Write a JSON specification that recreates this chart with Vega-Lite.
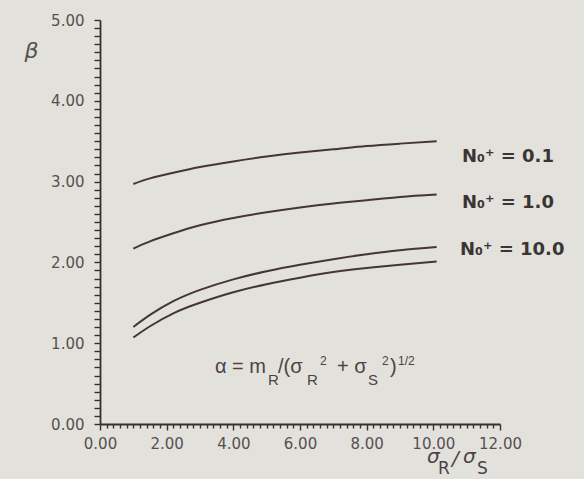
{
  "$schema": "https://vega.github.io/schema/vega-lite/v6.json",
  "width": 400,
  "height": 404,
  "autosize": "none",
  "padding": {"left": 100, "top": 20, "right": 84, "bottom": 55},
  "background": "#e3e1dc",
  "config": {
    "view": {"stroke": null},
    "axis": {"domainColor": "#3a2f2f", "domainWidth": 1.8, "tickColor": "#3a2f2f", "tickWidth": 1.4, "labelColor": "#555050", "labelFont": "DejaVu Sans", "labelFontSize": 15, "grid": false}
  },
  "datasets": {
    "curves": [
      {"series": "0.1", "x": 1.0, "y": 2.97}, {"series": "0.1", "x": 1.5, "y": 3.04}, {"series": "0.1", "x": 2.2, "y": 3.11}, {"series": "0.1", "x": 3.0, "y": 3.18}, {"series": "0.1", "x": 4.0, "y": 3.25}, {"series": "0.1", "x": 5.0, "y": 3.31}, {"series": "0.1", "x": 6.0, "y": 3.36}, {"series": "0.1", "x": 7.0, "y": 3.40}, {"series": "0.1", "x": 8.0, "y": 3.44}, {"series": "0.1", "x": 9.0, "y": 3.47}, {"series": "0.1", "x": 10.1, "y": 3.50},
      {"series": "1.0", "x": 1.0, "y": 2.17}, {"series": "1.0", "x": 1.5, "y": 2.26}, {"series": "1.0", "x": 2.2, "y": 2.36}, {"series": "1.0", "x": 3.0, "y": 2.46}, {"series": "1.0", "x": 4.0, "y": 2.55}, {"series": "1.0", "x": 5.0, "y": 2.62}, {"series": "1.0", "x": 6.0, "y": 2.68}, {"series": "1.0", "x": 7.0, "y": 2.73}, {"series": "1.0", "x": 8.0, "y": 2.77}, {"series": "1.0", "x": 9.0, "y": 2.81}, {"series": "1.0", "x": 10.1, "y": 2.84},
      {"series": "10.0", "x": 1.0, "y": 1.20}, {"series": "10.0", "x": 1.5, "y": 1.35}, {"series": "10.0", "x": 2.2, "y": 1.52}, {"series": "10.0", "x": 3.0, "y": 1.66}, {"series": "10.0", "x": 4.0, "y": 1.79}, {"series": "10.0", "x": 5.0, "y": 1.89}, {"series": "10.0", "x": 6.0, "y": 1.97}, {"series": "10.0", "x": 7.0, "y": 2.04}, {"series": "10.0", "x": 8.0, "y": 2.10}, {"series": "10.0", "x": 9.0, "y": 2.15}, {"series": "10.0", "x": 10.1, "y": 2.19},
      {"series": "lower", "x": 1.0, "y": 1.07}, {"series": "lower", "x": 1.5, "y": 1.21}, {"series": "lower", "x": 2.2, "y": 1.37}, {"series": "lower", "x": 3.0, "y": 1.50}, {"series": "lower", "x": 4.0, "y": 1.63}, {"series": "lower", "x": 5.0, "y": 1.73}, {"series": "lower", "x": 6.0, "y": 1.81}, {"series": "lower", "x": 7.0, "y": 1.88}, {"series": "lower", "x": 8.0, "y": 1.93}, {"series": "lower", "x": 9.0, "y": 1.97}, {"series": "lower", "x": 10.1, "y": 2.01}
    ],
    "nlabels": [
      {"t": "N₀⁺ = 0.1", "x": 10.86, "y": 3.24},
      {"t": "N₀⁺ = 1.0", "x": 10.86, "y": 2.67},
      {"t": "N₀⁺ = 10.0", "x": 10.80, "y": 2.09}
    ],
    "fmain": [
      {"t": "α = m", "x": 3.45, "y": 0.631},
      {"t": "/(σ", "x": 5.34, "y": 0.631},
      {"t": "+ σ", "x": 7.11, "y": 0.631},
      {"t": ")", "x": 8.70, "y": 0.631}
    ],
    "fsub": [
      {"t": "R", "x": 5.04, "y": 0.483},
      {"t": "R", "x": 6.21, "y": 0.483},
      {"t": "S", "x": 8.04, "y": 0.483}
    ],
    "fsup": [
      {"t": "2", "x": 6.6, "y": 0.73},
      {"t": "2", "x": 8.46, "y": 0.73},
      {"t": "1/2", "x": 8.94, "y": 0.73}
    ],
    "xtmain": [
      {"t": "σ", "x": 9.81, "y": -0.48},
      {"t": "/", "x": 10.56, "y": -0.51},
      {"t": "σ", "x": 10.89, "y": -0.48}
    ],
    "xtsub": [
      {"t": "R", "x": 10.14, "y": -0.62},
      {"t": "S", "x": 11.31, "y": -0.62}
    ]
  },
  "layer": [
    {
      "data": {"name": "curves"},
      "mark": {"type": "line", "interpolate": "natural", "color": "#453535", "strokeWidth": 2},
      "encoding": {
        "x": {"field": "x", "type": "quantitative", "scale": {"domain": [0, 12], "nice": false},
          "axis": {"title": null, "tickCount": 80, "values": [0,0.2,0.4,0.6,0.8,1,1.2,1.4,1.6,1.8,2,2.2,2.4,2.6,2.8,3,3.2,3.4,3.6,3.8,4,4.2,4.4,4.6,4.8,5,5.2,5.4,5.6,5.8,6,6.2,6.4,6.6,6.8,7,7.2,7.4,7.6,7.8,8,8.2,8.4,8.6,8.8,9,9.2,9.4,9.6,9.8,10,10.2,10.4,10.6,10.8,11,11.2,11.4,11.6,11.8,12],
            "labelExpr": "abs(datum.value/2 - round(datum.value/2)) < 0.001 ? format(datum.value, '.2f') : ''",
            "labelOverlap": false, "labelPadding": 6, "labelFlush": false,
            "tickSize": {"condition": {"test": "abs(datum.value/2 - round(datum.value/2)) < 0.001", "value": 6}, "value": 4}}},
        "y": {"field": "y", "type": "quantitative", "scale": {"domain": [0, 5], "nice": false},
          "axis": {"title": "β", "titleAngle": 0, "titleX": -69, "titleY": 37, "titleAlign": "center", "titleBaseline": "alphabetic", "titleFont": "DejaVu Sans", "titleFontStyle": "italic", "titleFontWeight": "normal", "titleFontSize": 22, "titleColor": "#555050",
            "tickCount": 70,
            "values": [0,0.1,0.2,0.3,0.4,0.5,0.6,0.7,0.8,0.9,1,1.1,1.2,1.3,1.4,1.5,1.6,1.7,1.8,1.9,2,2.1,2.2,2.3,2.4,2.5,2.6,2.7,2.8,2.9,3,3.1,3.2,3.3,3.4,3.5,3.6,3.7,3.8,3.9,4,4.1,4.2,4.3,4.4,4.5,4.6,4.7,4.8,4.9,5],
            "labelExpr": "abs(datum.value - round(datum.value)) < 0.001 ? format(datum.value, '.2f') : ''",
            "labelOverlap": false, "labelPadding": 10, "labelFlush": false, "tickSize": 6}},
        "detail": {"field": "series", "type": "nominal"}
      }
    },
    {
      "data": {"name": "nlabels"},
      "mark": {"type": "text", "align": "left", "baseline": "alphabetic", "font": "DejaVu Sans", "fontSize": 18, "fontWeight": "bold", "color": "#3a3434"},
      "encoding": {
        "x": {"field": "x", "type": "quantitative"},
        "y": {"field": "y", "type": "quantitative"},
        "text": {"field": "t"}
      }
    },
    {
      "data": {"name": "fmain"},
      "mark": {"type": "text", "align": "left", "baseline": "alphabetic", "font": "Liberation Sans", "fontSize": 20, "color": "#4a4444"},
      "encoding": {
        "x": {"field": "x", "type": "quantitative"},
        "y": {"field": "y", "type": "quantitative"},
        "text": {"field": "t"}
      }
    },
    {
      "data": {"name": "fsub"},
      "mark": {"type": "text", "align": "left", "baseline": "alphabetic", "font": "Liberation Sans", "fontSize": 15, "color": "#4a4444"},
      "encoding": {
        "x": {"field": "x", "type": "quantitative"},
        "y": {"field": "y", "type": "quantitative"},
        "text": {"field": "t"}
      }
    },
    {
      "data": {"name": "fsup"},
      "mark": {"type": "text", "align": "left", "baseline": "alphabetic", "font": "Liberation Sans", "fontSize": 12, "color": "#4a4444"},
      "encoding": {
        "x": {"field": "x", "type": "quantitative"},
        "y": {"field": "y", "type": "quantitative"},
        "text": {"field": "t"}
      }
    },
    {
      "data": {"name": "xtmain"},
      "mark": {"type": "text", "align": "left", "baseline": "alphabetic", "font": "DejaVu Sans", "fontSize": 20, "fontStyle": "italic", "color": "#4a4444"},
      "encoding": {
        "x": {"field": "x", "type": "quantitative"},
        "y": {"field": "y", "type": "quantitative"},
        "text": {"field": "t"}
      }
    },
    {
      "data": {"name": "xtsub"},
      "mark": {"type": "text", "align": "left", "baseline": "alphabetic", "font": "DejaVu Sans", "fontSize": 17, "color": "#4a4444"},
      "encoding": {
        "x": {"field": "x", "type": "quantitative"},
        "y": {"field": "y", "type": "quantitative"},
        "text": {"field": "t"}
      }
    }
  ]
}
